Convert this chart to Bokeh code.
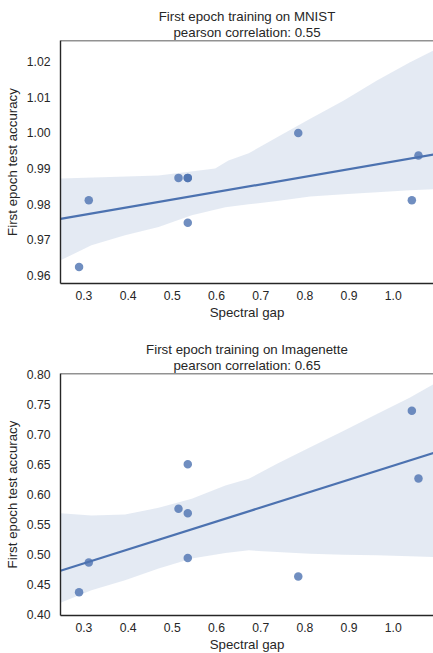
import numpy as np
from bokeh.plotting import figure
from bokeh.layouts import column
from bokeh.models import Range1d, FixedTicker, PrintfTickFormatter, Title, Span
from bokeh.embed import file_html
from bokeh.resources import INLINE

# ---- data ----
spectral_gap = [0.289, 0.311, 0.514, 0.535, 0.535, 0.535, 0.785, 1.042, 1.057]
mnist_acc = [0.9624, 0.9811, 0.9874, 0.9874, 0.9874, 0.9748, 1.000, 0.9811, 0.9937]
imagenette_acc = [0.4366, 0.4860, 0.5757, 0.6498, 0.5684, 0.4936, 0.4626, 0.7390, 0.6260]

# bootstrap confidence band edges
mnist_band_up_x = [0.247, 0.341, 0.469, 0.597, 0.627, 0.673, 0.737, 0.812, 0.888, 0.963, 1.038, 1.091]
mnist_band_up_y = [0.9872, 0.9876, 0.9881, 0.9900, 0.9923, 0.9943, 0.9988, 1.0040, 1.0091, 1.0147, 1.0198, 1.0231]
mnist_band_lo_x = [0.247, 0.317, 0.393, 0.469, 0.544, 0.620, 0.673, 0.737, 0.812, 0.888, 0.963, 1.038, 1.091]
mnist_band_lo_y = [0.9643, 0.9685, 0.9713, 0.9736, 0.9769, 0.9792, 0.9800, 0.9809, 0.9822, 0.9828, 0.9834, 0.9839, 0.9842]

img_band_x = [0.247, 0.317, 0.393, 0.469, 0.544, 0.620, 0.673, 0.737, 0.812, 0.888, 0.963, 1.038, 1.091]
img_band_up_y = [0.5684, 0.5645, 0.5662, 0.5773, 0.5923, 0.6144, 0.6255, 0.6505, 0.6781, 0.7058, 0.7336, 0.7611, 0.7834]
img_band_lo_y = [0.4190, 0.4399, 0.4565, 0.4760, 0.4926, 0.5019, 0.5064, 0.5035, 0.5009, 0.4992, 0.4981, 0.4964, 0.4952]

x_ticks = [0.3, 0.4, 0.5, 0.6, 0.7, 0.8, 0.9, 1.0]
mnist_y_ticks = [0.96, 0.97, 0.98, 0.99, 1.00, 1.01, 1.02]
img_y_ticks = [0.40, 0.45, 0.50, 0.55, 0.60, 0.65, 0.70, 0.75, 0.80]

titles_mnist = ["First epoch training on MNIST", "pearson correlation: 0.55"]
titles_img = ["First epoch training on Imagenette", "pearson correlation: 0.65"]
x_label = "Spectral gap"
y_label = "First epoch test accuracy"

x_lim = (0.247, 1.091)
mnist_ylim = (0.9578, 1.0259)
img_ylim = (0.3978, 0.8011)

BLUE = "#4C72B0"
DARK = "#262626"
FONT = "Liberation Sans"


def make_fig(titles, yvals, up_x, up_y, lo_x, lo_y, ylim, yticks, fh, top, bottom, xstand, xlstand):
    p = figure(frame_width=373, frame_height=fh, x_range=Range1d(*x_lim), y_range=Range1d(*ylim),
               output_backend="svg", toolbar_location=None, title=None,
               min_border_left=60, min_border_right=0, min_border_top=top, min_border_bottom=bottom,
               background_fill_color="white", border_fill_color="white")
    p.add_layout(Title(text=titles[1], align="center", text_font=FONT, text_font_size="13.3px",
                       text_font_style="normal", text_color=DARK, text_line_height=1.0,
                       standoff=2, offset=0), "above")
    p.add_layout(Title(text=titles[0], align="center", text_font=FONT, text_font_size="13.3px",
                       text_font_style="normal", text_color=DARK, text_line_height=1.0,
                       standoff=-5, offset=0), "above")

    xs = list(up_x) + list(lo_x)[::-1]
    ys = list(up_y) + list(lo_y)[::-1]
    p.patch(xs, ys, fill_color=BLUE, fill_alpha=0.15, line_color=None)

    slope, intercept = np.polyfit(spectral_gap, yvals, 1)
    lx = np.array(x_lim)
    p.line(lx, slope * lx + intercept, line_color=BLUE, line_width=2.2)

    p.scatter(spectral_gap, yvals, size=8.5, fill_color=BLUE, fill_alpha=0.8, line_color=None)

    p.grid.visible = False
    p.outline_line_color = None
    # top spine (right spine lies outside the visible window in the reference)
    p.add_layout(Span(location=ylim[1], dimension="width", line_color=DARK, line_width=1.4))
    for ax in (p.xaxis[0], p.yaxis[0]):
        ax.axis_line_color = DARK
        ax.axis_line_width = 1.4
        ax.major_tick_line_color = None
        ax.minor_tick_line_color = None
        ax.major_tick_out = 0
        ax.major_tick_in = 0
        ax.minor_tick_out = 0
        ax.minor_tick_in = 0
        ax.major_label_text_font = FONT
        ax.major_label_text_font_size = "12.2px"
        ax.major_label_text_color = DARK
        ax.axis_label_text_font = FONT
        ax.axis_label_text_font_size = "13.3px"
        ax.axis_label_text_font_style = "normal"
        ax.axis_label_text_color = DARK
    p.xaxis[0].ticker = FixedTicker(ticks=x_ticks)
    p.xaxis[0].formatter = PrintfTickFormatter(format="%.1f")
    p.xaxis[0].axis_label = x_label
    p.xaxis[0].major_label_standoff = xstand
    p.xaxis[0].axis_label_standoff = xlstand
    p.yaxis[0].ticker = FixedTicker(ticks=yticks)
    p.yaxis[0].formatter = PrintfTickFormatter(format="%.2f")
    p.yaxis[0].axis_label = y_label
    p.yaxis[0].major_label_standoff = 10
    p.yaxis[0].axis_label_standoff = 4
    return p


p1 = make_fig(titles_mnist, mnist_acc, mnist_band_up_x, mnist_band_up_y, mnist_band_lo_x, mnist_band_lo_y,
              mnist_ylim, mnist_y_ticks, 243, 40, 57, 7, 2)
p2 = make_fig(titles_img, imagenette_acc, img_band_x, img_band_up_y, img_band_x, img_band_lo_y,
              img_ylim, img_y_ticks, 242, 33, 36, 7, 2)

layout = column(p1, p2, spacing=0)
open("out.html", "w").write(file_html(layout, INLINE))
